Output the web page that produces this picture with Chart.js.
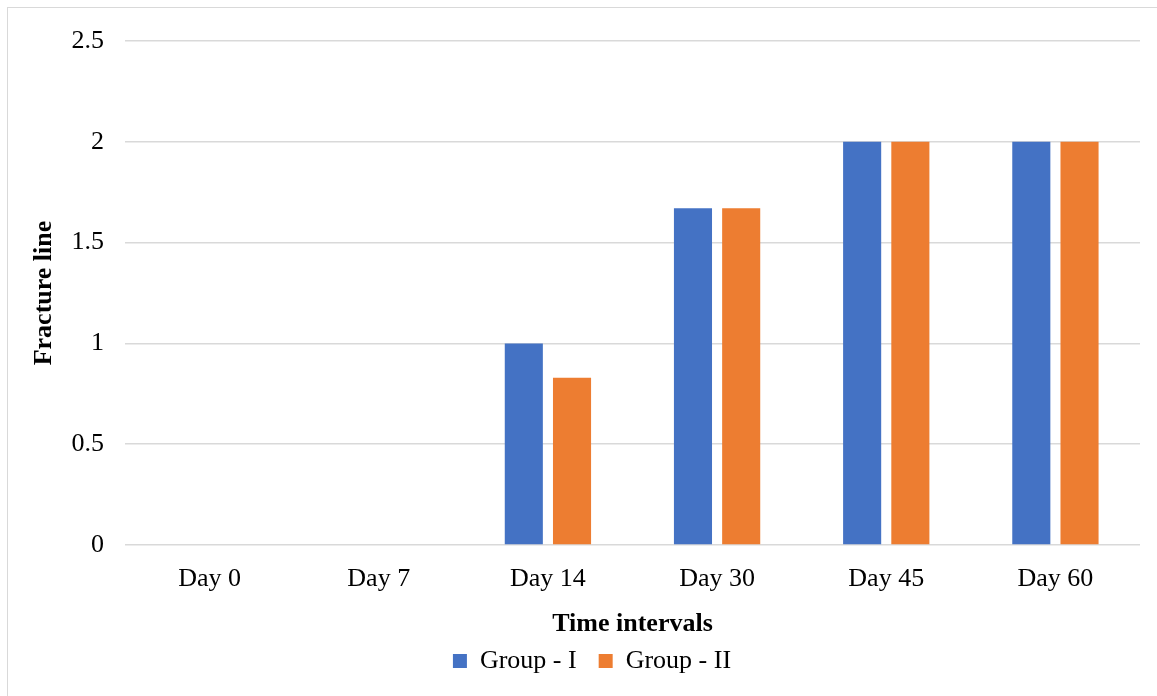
<!DOCTYPE html>
<html>
<head>
<meta charset="utf-8">
<script src="https://cdn.jsdelivr.net/npm/chart.js@4"></script>
<style>
  body { margin: 0; background: #fff; overflow: hidden; }
  #frame { position: absolute; left: 7px; top: 7px; width: 1170px; height: 710px; border: 1.5px solid #d9d9d9; }
  #wrap { position: absolute; left: 0; top: 0; width: 1157px; height: 696px; }
</style>
</head>
<body>
<div id="frame"></div>
<div id="wrap"><canvas id="barChart"></canvas></div>
<script>
// 데이터
const days = ['Day 0', 'Day 7', 'Day 14', 'Day 30', 'Day 45', 'Day 60'];
const groupOne = [0, 0, 1, 1.67, 2, 2];
const groupTwo = [0, 0, 0.83, 1.67, 2, 2];
const yTicks = [0, 0.5, 1, 1.5, 2, 2.5];

const serif = "'Liberation Serif', 'Times New Roman', serif";

// 범례를 오른쪽으로 살짝 이동
const legendShift = {
    id: 'legendShift',
    afterLayout(chart) {
        chart.legend.left += 22;
        chart.legend.right += 22;
    }
};

new Chart(document.getElementById('barChart'), {
    type: 'bar',
    data: {
        labels: days,
        datasets: [
            {
                label: 'Group - I',
                data: groupOne,
                backgroundColor: '#4472C4',
                barPercentage: 0.79,
                categoryPercentage: 0.57
            },
            {
                label: 'Group - II',
                data: groupTwo,
                backgroundColor: '#ED7D31',
                barPercentage: 0.79,
                categoryPercentage: 0.57
            }
        ]
    },
    options: {
        responsive: true,
        maintainAspectRatio: false,
        animation: false,
        layout: {
            padding: { left: 0, right: 17, top: 41, bottom: 12 }
        },
        plugins: {
            tooltip: { enabled: false },
            legend: {
                position: 'bottom',
                labels: {
                    color: '#000',
                    boxWidth: 14,
                    boxHeight: 14,
                    padding: 22,
                    font: { family: serif, size: 26 }
                }
            }
        },
        scales: {
            x: {
                grid: { display: false },
                border: { display: false },
                ticks: { color: '#000', padding: 11, font: { family: serif, size: 26 } },
                title: {
                    display: true,
                    text: 'Time intervals',
                    color: '#000',
                    padding: { top: 0, bottom: -14 },
                    font: { family: serif, size: 26, weight: 'bold' }
                },
                afterFit(scale) { scale.height = 81; }
            },
            y: {
                min: 0,
                max: 2.5,
                afterBuildTicks(scale) { scale.ticks = yTicks.map(v => ({ value: v })); },
                grid: { color: '#d9d9d9', lineWidth: 1.5, drawTicks: false },
                border: { display: false },
                ticks: {
                    color: '#000',
                    padding: 21,
                    font: { family: serif, size: 26 },
                    callback: value => String(value)
                },
                title: {
                    display: true,
                    text: 'Fracture line',
                    color: '#000',
                    padding: { top: 29, bottom: 0 },
                    font: { family: serif, size: 26, weight: 'bold' }
                },
                afterFit(scale) { scale.width = 125; }
            }
        }
    },
    plugins: [legendShift]
});
</script>
</body>
</html>
